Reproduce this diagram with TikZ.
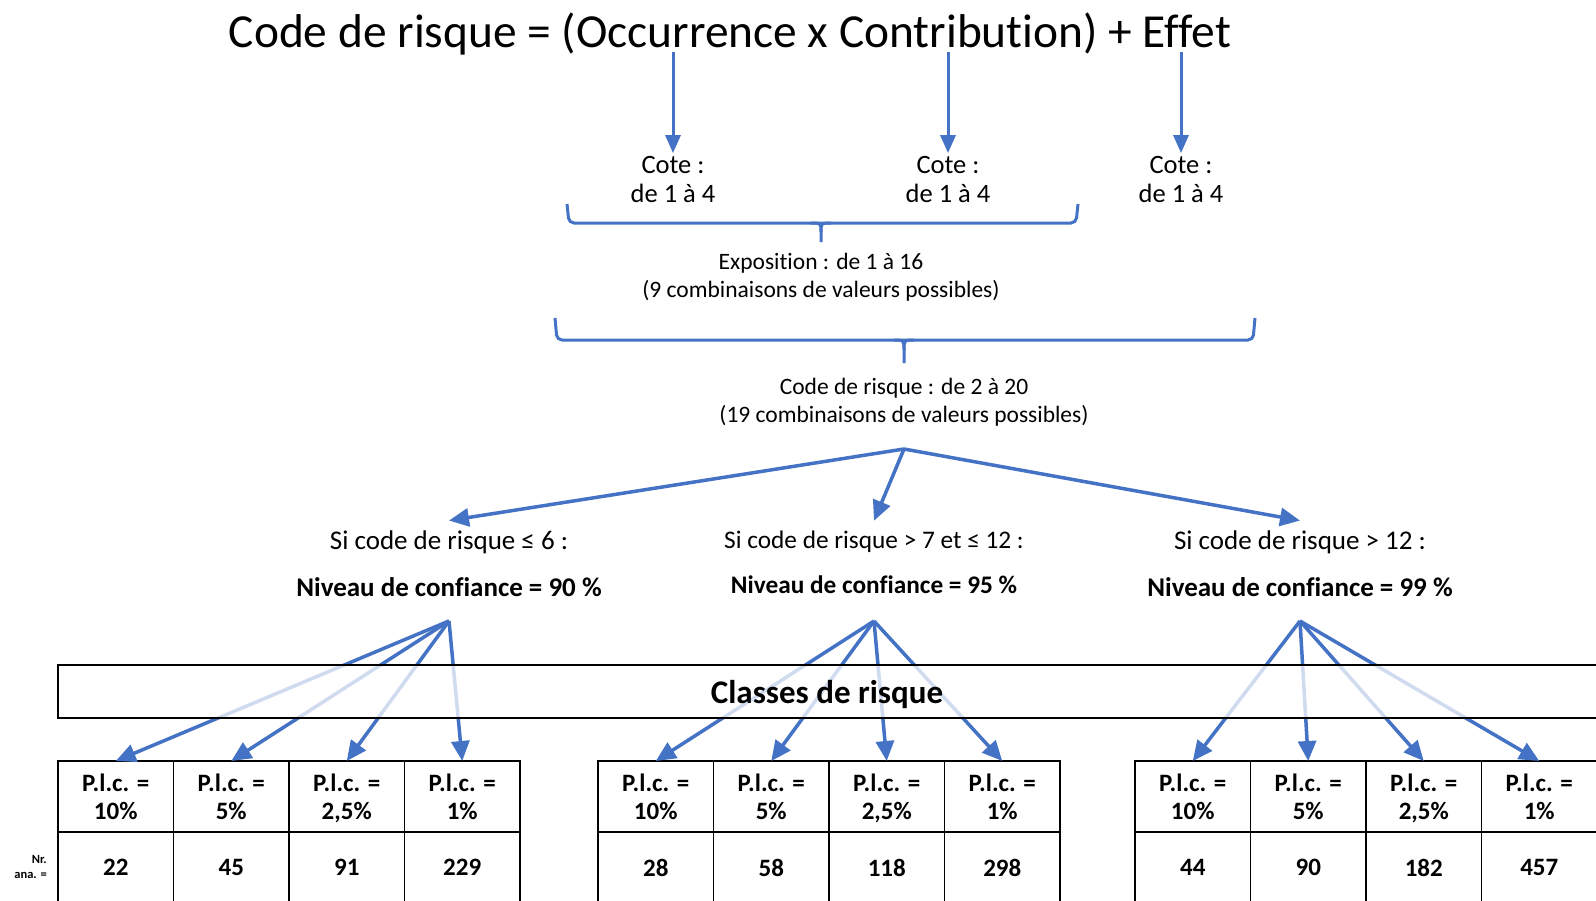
\documentclass[tikz,border=0pt]{standalone}
\usepackage{fontspec}
\setmainfont{Carlito}[Ligatures={NoCommon}]
\usetikzlibrary{arrows.meta}
\usetikzlibrary{positioning}
\definecolor{riskblue}{RGB}{68,114,196}

\begin{document}
\begin{tikzpicture}[x=1pt, y=-1pt,
	txt/.style={inner sep=0pt, align=center, font=\fontsize{23.5}{28}\selectfont},
	cotetxt/.style={inner sep=3pt, align=center, font=\fontsize{26.5}{29}\selectfont},
	condtxt/.style={inner sep=0pt, anchor=base, font=\fontsize{27}{31}\selectfont},
	conftxt/.style={inner sep=0pt, anchor=base, font=\fontsize{27}{31}\selectfont\bfseries},
	cell/.style={draw, line width=1.5pt, minimum width=115.5pt, minimum height=71pt, inner sep=0pt, outer sep=0pt, align=center, text depth=0pt, font=\fontsize{25}{28}\selectfont\bfseries},
	blueline/.style={draw=riskblue, line width=3pt},
	titlearrow/.style={draw=riskblue, line width=3pt, shorten <=5pt, -{Triangle[length=18pt,width=15pt]}},
	bluearrow/.style={draw=riskblue, line width=3.5pt, -{Triangle[length=20pt,width=18pt]}},
]
\useasboundingbox (0,0) rectangle (1596,900);
\clip (0,0) rectangle (1596,900);

% formule
\node[anchor=base, inner sep=0pt, font=\fontsize{47.4}{56}\selectfont] (title) at (730,47) {Code de risque = (Occurrence x Contribution) + Effet};
\node[cotetxt] (cote1) at (673,179.5) {Cote :\\de 1 à 4};
\node[cotetxt] (cote2) at (948,179.5) {Cote :\\de 1 à 4};
\node[cotetxt] (cote3) at (1181,179.5) {Cote :\\de 1 à 4};
\foreach \n in {1,2,3}
	\draw[titlearrow] (title.base -| cote\n.north) -- (cote\n.north);

% accolades
\draw[blueline, rounded corners=5pt] (567,204) -- (569,223) -- (1076,223) -- (1078,204);
\draw[blueline] (811,223) .. controls (821,223) .. (821,232) -- (821,242);
\draw[blueline] (831,223) .. controls (821,223) .. (821,232);
\node[txt] (expo) at (821,277) {Exposition : de 1 à 16\\(9 combinaisons de valeurs possibles)};

\draw[blueline, rounded corners=5pt] (555,318) -- (557,340) -- (1253,340) -- (1255,318);
\draw[blueline] (894,340) .. controls (904,340) .. (904,350) -- (904,363);
\draw[blueline] (914,340) .. controls (904,340) .. (904,350);
\node[txt] (codeval) at (904,402) {Code de risque : de 2 à 20\\(19 combinaisons de valeurs possibles)};

% niveaux de confiance
\coordinate (fan) at (904,449);
\node[condtxt] (condA) at (449,549.5) {Si code de risque ≤ 6 :};
\node[condtxt, font=\fontsize{25.3}{31}\selectfont] (condB) at (874,548.5) {Si code de risque > 7 et ≤ 12 :};
\node[condtxt] (condC) at (1300,549.5) {Si code de risque > 12 :};
\node[conftxt] (confA) at (449,596.5) {Niveau de confiance = 90 \%};
\node[conftxt, font=\fontsize{25.3}{31}\selectfont\bfseries] (confB) at (874,593.5) {Niveau de confiance = 95 \%};
\node[conftxt] (confC) at (1300,596.5) {Niveau de confiance = 99 \%};
\foreach \c in {A,B,C}
	\draw[bluearrow] (fan) -- ([yshift=10pt]cond\c.north);
\coordinate (hubA) at (449,621);
\coordinate (hubB) at (874,621);
\coordinate (hubC) at (1300,621);

% tableaux
\foreach \g/\x in {a/58,b/598,c/1135}
	\foreach \p [count=\i] in {10,5,{2,5},1}
		\node[cell] (h\g\i) at (\x+115.5*\i-57.75,796.5) {P.l.c. =\\\p\%};
\foreach \v [count=\i] in {22,45,91,229}
	\node[cell, anchor=north] (va\i) at (ha\i.south) {\v};
\foreach \v [count=\i] in {28,58,118,298}
	\node[cell, anchor=north] (vb\i) at (hb\i.south) {\v};
\foreach \v [count=\i] in {44,90,182,457}
	\node[cell, anchor=north] (vc\i) at (hc\i.south) {\v};
\node[anchor=east, align=right, inner sep=0pt, font=\fontsize{12.5}{15}\selectfont\bfseries] (nrana) at (47,867) {Nr.\\ana. =};

\foreach \g/\h in {a/A,b/B,c/C}
	\foreach \i in {1,...,4}
		\draw[bluearrow] (hub\h) -- (h\g\i.north);

% bandeau
\draw[line width=1.5pt, fill=white, fill opacity=0.75] (58,665) rectangle (1610,718);
\node[anchor=base, inner sep=0pt, font=\fontsize{33}{40}\selectfont\bfseries] (classes) at (827,703) {Classes de risque};
\end{tikzpicture}
\end{document}
